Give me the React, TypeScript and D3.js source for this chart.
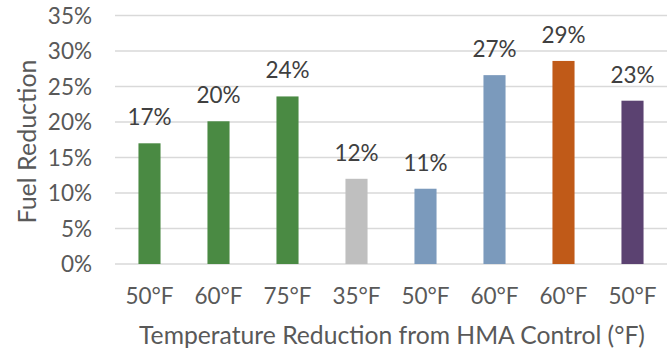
import React from "react";
import * as d3 from "d3";

// Temperature reduction groups and measured fuel savings
const categories: string[] = ["50°F", "60°F", "75°F", "35°F", "50°F", "60°F", "60°F", "50°F"];
const fuelReduction: number[] = [0.17, 0.201, 0.236, 0.12, 0.106, 0.266, 0.286, 0.23];
const barColors: string[] = ["#4A8A43", "#4A8A43", "#4A8A43", "#BFBFBF", "#7B9ABC", "#7B9ABC", "#C05A18", "#5B4271"];
const yTicks: number[] = [0, 0.05, 0.1, 0.15, 0.2, 0.25, 0.3, 0.35];

const W = 671;
const H = 352;
const margin = { left: 115, right: 4, top: 15.5, bottom: 88 };
const FONT = "Lato, 'Open Sans', sans-serif";

export default function App() {
  const x = d3
    .scaleBand<number>()
    .domain(categories.map((_, i) => i))
    .range([margin.left, W - margin.right])
    .paddingInner(0.68)
    .paddingOuter(0.34);
  const y = d3
    .scaleLinear()
    .domain([0, 0.35])
    .range([H - margin.bottom, margin.top]);
  const pct = d3.format(".0%");

  return (
    <svg
      width={W}
      height={H}
      style={{ position: "absolute", left: 0, top: 0, background: "#fff" }}
      fontFamily={FONT}
    >
      {yTicks.map((t) => (
        <g key={t}>
          <line
            x1={margin.left}
            x2={W - margin.right}
            y1={y(t)}
            y2={y(t)}
            stroke="#D9D9D9"
            strokeWidth={1.5}
          />
          <text
            x={92}
            y={y(t)}
            dy="0.36em"
            textAnchor="end"
            fontSize={22.5}
            fill="#595959"
          >
            {pct(t)}
          </text>
        </g>
      ))}
      {fuelReduction.map((v, i) => (
        <g key={i}>
          <rect
            x={x(i)}
            y={y(v)}
            width={x.bandwidth()}
            height={y(0) - y(v)}
            fill={barColors[i]}
          />
          <text
            x={(x(i) as number) + x.bandwidth() / 2}
            y={y(v) - 18}
            textAnchor="middle"
            fontSize={22.5}
            fill="#404040"
          >
            {pct(v)}
          </text>
          <text
            x={(x(i) as number) + x.bandwidth() / 2}
            y={303.5}
            textAnchor="middle"
            fontSize={22.5}
            fill="#595959"
          >
            {categories[i]}
          </text>
        </g>
      ))}
      <text
        transform={`translate(36, 141.5) rotate(-90)`}
        textAnchor="middle"
        fontSize={25}
        fill="#595959"
      >
        Fuel Reduction
      </text>
      <text x={392} y={344} textAnchor="middle" fontSize={24.7} fill="#595959">
        Temperature Reduction from HMA Control (°F)
      </text>
    </svg>
  );
}
